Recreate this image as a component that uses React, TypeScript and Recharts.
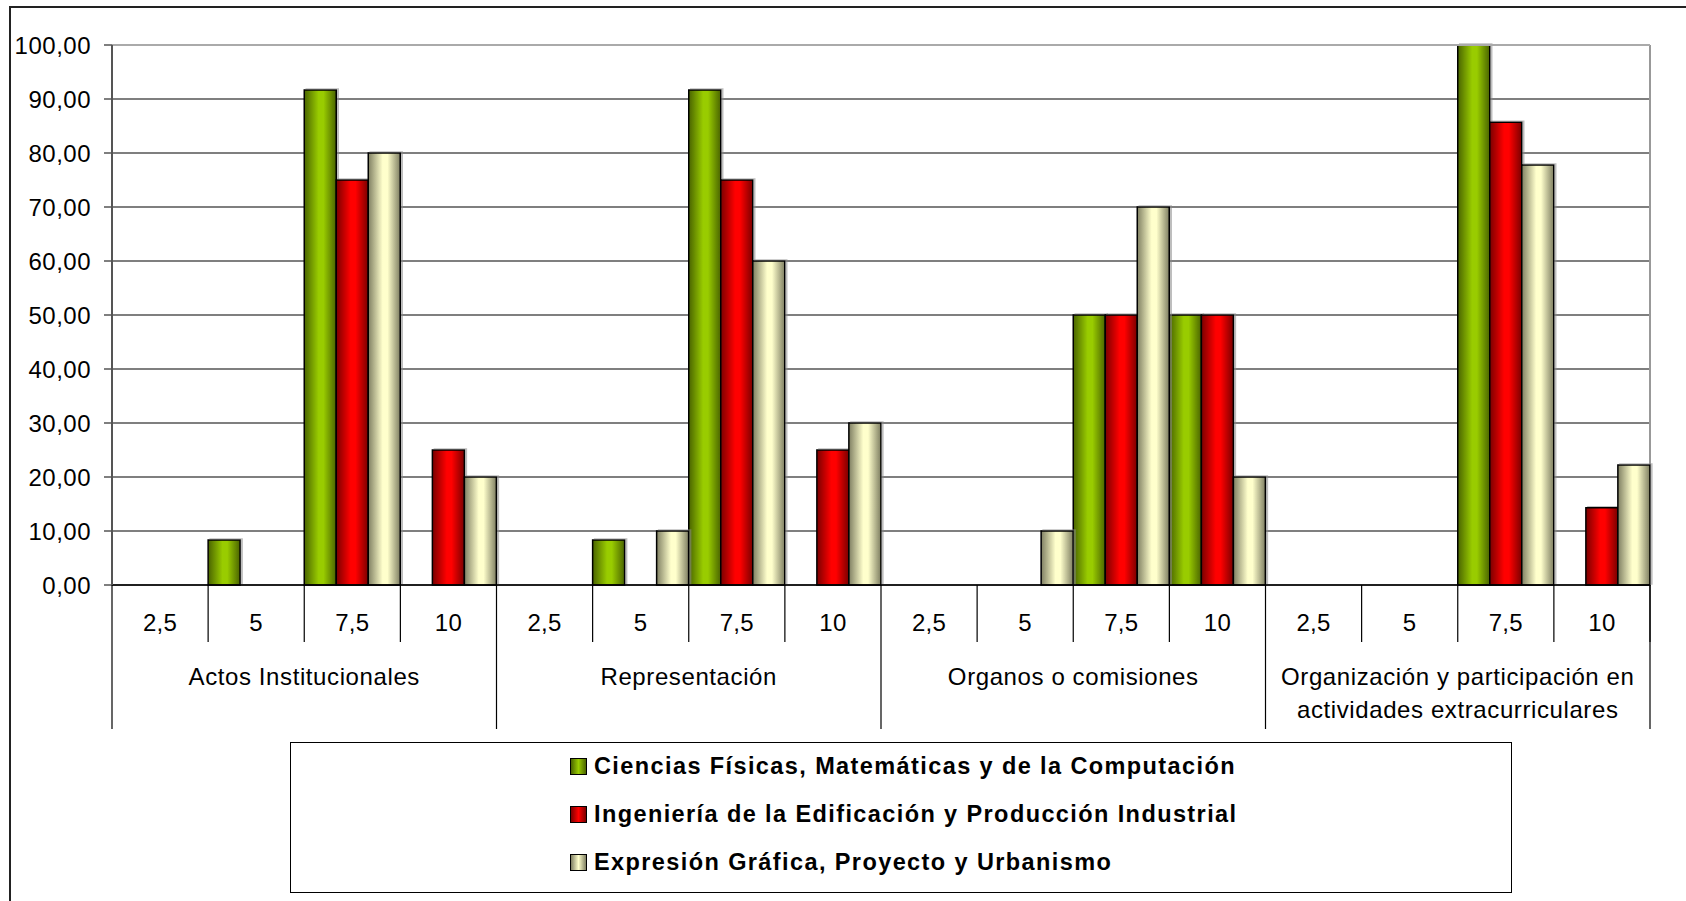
import React from "react";
import {
  BarChart,
  Bar,
  XAxis,
  YAxis,
  CartesianGrid,
  Legend,
  ReferenceLine,
} from "recharts";

const subLabels = ["2,5", "5", "7,5", "10"];
const groups = [
  "Actos Institucionales",
  "Representación",
  "Organos o comisiones",
  "Organización y participación en actividades extracurriculares",
];
const groupLines = [
  ["Actos Institucionales"],
  ["Representación"],
  ["Organos o comisiones"],
  ["Organización y participación en", "actividades extracurriculares"],
];
const seriesNames = [
  "Ciencias Físicas, Matemáticas y de la Computación",
  "Ingeniería de la Edificación y Producción Industrial",
  "Expresión Gráfica, Proyecto y Urbanismo",
];
const ciencias = [0, 8.33, 91.67, 0, 0, 8.33, 91.67, 0, 0, 0, 50, 50, 0, 0, 100, 0];
const ingenieria = [0, 0, 75, 25, 0, 0, 75, 25, 0, 0, 50, 50, 0, 0, 85.71, 14.29];
const expresion = [0, 0, 80, 20, 0, 10, 60, 30, 0, 10, 70, 20, 0, 0, 77.78, 22.22];
const yTicks = [0, 10, 20, 30, 40, 50, 60, 70, 80, 90, 100];

const data = ciencias.map((_, i) => ({
  sub: subLabels[i % 4],
  group: groups[Math.floor(i / 4)],
  c: ciencias[i],
  i: ingenieria[i],
  e: expresion[i],
}));

const FONT = "'Liberation Sans', Arial, sans-serif";
const gradStops = [
  { id: "gC", edge: "#4a6400", mid: "#99cc00" },
  { id: "gI", edge: "#7a0000", mid: "#ff0000" },
  { id: "gE", edge: "#7f7f62", mid: "#ffffcc" },
];

const SubTick = (props: any) => {
  const { x, y, payload, index, visibleTicksCount, width } = props;
  const half = payload.offset ?? width / 32;
  const isLast = index === visibleTicksCount - 1;
  return (
    <g>
      {index % 4 !== 0 && (
        <line x1={x - half} x2={x - half} y1={y} y2={y + 57} stroke="#000" strokeWidth={1.2} />
      )}
      {isLast && (
        <line x1={x + half} x2={x + half} y1={y} y2={y + 57} stroke="#000" strokeWidth={1.2} />
      )}
      <text
        x={x}
        y={y + 46}
        textAnchor="middle"
        fontFamily={FONT}
        fontSize={24}
        letterSpacing={0.3}
        fill="#000"
      >
        {payload.value}
      </text>
    </g>
  );
};

const GroupTick = (props: any) => {
  const { x, y, payload, index, visibleTicksCount, width } = props;
  const half = payload.offset ?? width / 8;
  const isLast = index === visibleTicksCount - 1;
  const gi = groups.indexOf(payload.value);
  const lines = groupLines[gi] || [payload.value];
  return (
    <g>
      <line x1={x - half} x2={x - half} y1={y - 57} y2={y + 87} stroke="#000" strokeWidth={1.2} />
      {isLast && (
        <line x1={x + half} x2={x + half} y1={y - 57} y2={y + 87} stroke="#000" strokeWidth={1.2} />
      )}
      {lines.map((ln: string, k: number) => (
        <text
          key={k}
          x={x}
          y={y + 43 + k * 33}
          textAnchor="middle"
          fontFamily={FONT}
          fontSize={24}
          letterSpacing={0.6}
          fill="#000"
        >
          {ln}
        </text>
      ))}
    </g>
  );
};

const legendColors = [
  "linear-gradient(to right, #4a6400, #99cc00 50%, #4a6400)",
  "linear-gradient(to right, #7a0000, #ff0000 50%, #7a0000)",
  "linear-gradient(to right, #7f7f62, #ffffcc 50%, #7f7f62)",
];

const LegendBox = (props: any) => {
  const payload = [...(props.payload || [])].sort(
    (a: any, b: any) => seriesNames.indexOf(a.value) - seriesNames.indexOf(b.value)
  );
  return (
    <div
      style={{
        width: 1222,
        height: 151,
        boxSizing: "border-box",
        border: "1.5px solid #000",
        background: "#fff",
        display: "flex",
        justifyContent: "flex-start",
        alignItems: "center",
        paddingLeft: 279,
        paddingBottom: 6,
      }}
    >
      <div style={{ display: "flex", flexDirection: "column", gap: 21 }}>
        {payload.map((p: any, k: number) => {
          const idx = seriesNames.indexOf(p.value);
          return (
            <div key={k} style={{ display: "flex", alignItems: "center", height: 27 }}>
              <span
                style={{
                  display: "inline-block",
                  width: 15,
                  height: 15,
                  border: "1.5px solid #000",
                  background: legendColors[idx >= 0 ? idx : k],
                  marginRight: 7,
                }}
              />
              <span
                style={{
                  fontFamily: FONT,
                  fontWeight: "bold",
                  fontSize: 23.5,
                  letterSpacing: 1.4,
                  color: "#000",
                  whiteSpace: "nowrap",
                }}
              >
                {p.value}
              </span>
            </div>
          );
        })}
      </div>
    </div>
  );
};

export default function App() {
  return (
    <div
      style={{
        position: "absolute",
        left: 0,
        top: 0,
        width: 1686,
        height: 901,
        background: "#fff",
        overflow: "hidden",
      }}
    >
      <div
        style={{
          position: "absolute",
          left: 9,
          top: 6,
          width: 1700,
          height: 920,
          borderLeft: "2px solid #222",
          borderTop: "2px solid #222",
        }}
      />
      <div style={{ position: "absolute", left: 0, top: 0 }}>
        <BarChart
          width={1686}
          height={901}
          data={data}
          margin={{ top: 45, right: 36, left: 0, bottom: 171 }}
          barCategoryGap={0}
          barGap={0}
        >
          <defs>
            {gradStops.map((g) => (
              <linearGradient key={g.id} id={g.id} x1="0" y1="0" x2="1" y2="0">
                <stop offset="0%" stopColor={g.edge} />
                <stop offset="45%" stopColor={g.mid} />
                <stop offset="60%" stopColor={g.mid} />
                <stop offset="100%" stopColor={g.edge} />
              </linearGradient>
            ))}
            <filter id="barShadow" x="-10%" y="-10%" width="130%" height="120%">
              <feDropShadow dx={2} dy={-1} stdDeviation={0.6} floodColor="#888" floodOpacity={0.55} />
            </filter>
          </defs>
          <CartesianGrid vertical={false} stroke="#000" strokeWidth={1.2} />
          <CartesianGrid
            horizontal={false}
            stroke="#999"
            strokeWidth={2}
            verticalCoordinatesGenerator={(p: any) => [p.offset.left + p.offset.width]}
          />
          <ReferenceLine y={100} stroke="#aaa" strokeWidth={2} />
          <XAxis
            dataKey="sub"
            height={57}
            tickSize={0}
            tickMargin={0}
            tickLine={false}
            axisLine={{ stroke: "#000", strokeWidth: 1.5 }}
            tick={<SubTick />}
            interval={0}
          />
          <XAxis
            xAxisId="group"
            dataKey="group"
            allowDuplicatedCategory={false}
            height={88}
            tickSize={0}
            tickMargin={0}
            tickLine={false}
            axisLine={false}
            tick={<GroupTick />}
            interval={0}
          />
          <YAxis
            width={112}
            domain={[0, 100]}
            ticks={yTicks}
            interval={0}
            tickSize={8}
            tickMargin={13}
            axisLine={{ stroke: "#555", strokeWidth: 2 }}
            tickLine={{ stroke: "#555", strokeWidth: 1.5 }}
            tick={{ fontFamily: FONT, fontSize: 24, fill: "#000", letterSpacing: 0.5 }}
            tickFormatter={(v: number) => v.toFixed(2).replace(".", ",")}
          />
          <Legend
            layout="vertical"
            verticalAlign="middle"
            align="center"
            wrapperStyle={{ left: 290, top: 742, width: 1222, height: 151 }}
            content={<LegendBox />}
          />
          <Bar dataKey="c" name={seriesNames[0]} fill="url(#gC)" stroke="#000" strokeWidth={1.5} filter="url(#barShadow)" isAnimationActive={false} />
          <Bar dataKey="i" name={seriesNames[1]} fill="url(#gI)" stroke="#000" strokeWidth={1.5} filter="url(#barShadow)" isAnimationActive={false} />
          <Bar dataKey="e" name={seriesNames[2]} fill="url(#gE)" stroke="#000" strokeWidth={1.5} filter="url(#barShadow)" isAnimationActive={false} />
        </BarChart>
      </div>
    </div>
  );
}
